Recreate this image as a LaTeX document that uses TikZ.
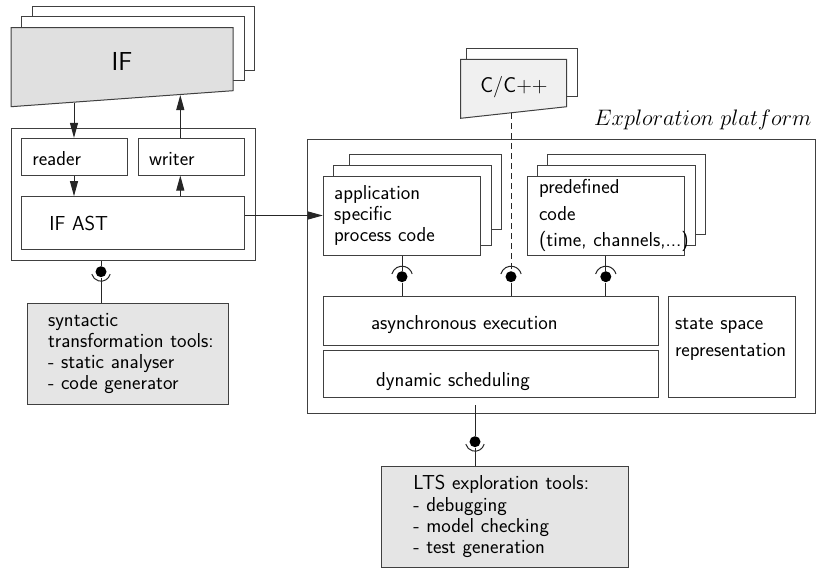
\documentclass[tikz,border=0pt]{standalone}
\usepackage{fix-cm}
\usetikzlibrary{arrows.meta}

\begin{document}
\begin{tikzpicture}[x=1pt, y=-1pt, line width=1pt, font=\sffamily\fontsize{20.2}{20.7}\selectfont]
    \tikzstyle{every node} = [inner sep=0pt]
    \tikzstyle{box} = [rectangle, draw=black!75, fill=white, inner xsep=1pt, align=left]
    \tikzstyle{tool} = [box, fill=black!10]
    \tikzstyle{sheet} = [draw=black!75, fill=white]
    \tikzstyle{link} = [draw=black!85]
    \tikzstyle{arr} = [link, -{Triangle[length=15pt, width=8pt]}]
    \tikzstyle{ball} = [circle, fill=black, minimum size=11pt]

    \useasboundingbox (0,0) rectangle (818,570);

    % IF document
    \draw[sheet] (32,6) rectangle (254.7,70);
    \draw[sheet] (21.3,16.7) rectangle (244.3,80.7);
    \draw[sheet, fill=black!12] (11,27.7) -- (233,27.7) -- (233,90.7) -- (11,106.7) -- cycle;
    \node[font=\sffamily\fontsize{26}{30}\selectfont] (ifdoc) at (122,61) {IF};
    \coordinate (ifout) at (74,102.5);
    \coordinate (ifin) at (180.3,95);

    % C/C++ document
    \draw[sheet] (466,48.3) rectangle (577.7,96.7);
    \draw[sheet, fill=black!6] (460.7,59.3) -- (566.7,59.3) -- (566.7,106.7) -- (460.7,118.3) -- cycle;
    \node[font=\sffamily\fontsize{21.5}{24}\selectfont] (cpp) at (514,87.5) {C/C++};
    \coordinate (cppout) at (511,113);

    % IF front end
    \node[box, minimum width=244pt, minimum height=131.7pt] (ifbox) at (133,194.2) {};
    \node[box, minimum width=106pt, minimum height=36.7pt, text width=104pt,
          text height=16.6pt, text depth=0pt] (reader) at (74.7,156.7) {\leftskip=9.6pt reader\par};
    \node[box, minimum width=106pt, minimum height=36.7pt, text width=104pt,
          text height=16.6pt, text depth=0pt] (writer) at (191.3,156.7) {\leftskip=9.7pt writer\par};
    \node[box, minimum width=222.6pt, minimum height=53.3pt, text width=220.6pt] (ast) at (133,223.3) {\leftskip=26.6pt IF AST\par};

    \node[tool, minimum width=201.7pt, minimum height=101pt, text width=199.7pt] (syn) at (127.85,353.5)
        {\leftskip=20pt syntactic\\transformation tools:\\- static analyser\\- code generator\par};

    % exploration platform
    \node[box, minimum width=508pt, minimum height=274.3pt] (plat) at (561,276.2) {};
    \node[anchor=base east, font=\fontsize{22.4}{26}\selectfont] (platname) at (812,125) {$Exploration\ platform$};

    \draw[sheet] (349.3,154.3) rectangle (501.3,229);
    \draw[sheet] (333.3,165.7) rectangle (491,245);
    \node[box, minimum width=157.4pt, minimum height=79pt, text width=155.4pt] (app) at (402,215.5)
        {\leftskip=9.9pt application\\specific\\process code\par};

    \draw[sheet] (547.7,154.3) rectangle (705,234.3);
    \draw[sheet] (537.7,165.7) rectangle (695,245);
    \node[box, minimum width=157pt, minimum height=79pt, text width=155pt,
          font=\sffamily\fontsize{20.2}{26.5}\selectfont] (pre) at (605.8,215.5)
        {\leftskip=10.7pt predefined\\code\\\mbox{(time, channels,...)}\par};

    \node[box, minimum width=335pt, minimum height=48.3pt, text width=333pt,
          text height=20.8pt, text depth=3.8pt] (async) at (490.8,320.85) {\leftskip=46.7pt asynchronous execution\par};
    \node[box, minimum width=335pt, minimum height=47pt, text width=333pt,
          text height=27.4pt, text depth=3.8pt] (dyn) at (490.8,374.2) {\leftskip=51.7pt dynamic scheduling\par};
    \node[box, minimum width=126.7pt, minimum height=101pt, text width=124.7pt, text depth=47pt,
          font=\sffamily\fontsize{20.2}{27}\selectfont] (state) at (731.65,347.2)
        {\leftskip=5.7pt state space\\representation\par};

    \node[tool, minimum width=246.6pt, minimum height=101pt, text width=244.6pt,
          font=\sffamily\fontsize{20.2}{21.1}\selectfont] (lts) at (505,516.5)
        {\leftskip=30.6pt LTS exploration tools:\\- debugging\\- model checking\\- test generation\par};

    % arrows
    \draw[arr] (ifout) -- (ifout |- reader.north);
    \draw[arr] (ifout |- reader.south) -- (ifout |- ast.north);
    \draw[arr] (ast.north -| ifin) -- (ifin |- writer.south);
    \draw[arr] (ifin |- writer.north) -- (ifin);
    \draw[arr] (ast.east |- app.west) -- (app.west);

    % ball and socket connectors
    \node[ball] (s1) at (101,271.7) {};
    \draw[link] (ifbox.south -| s1) -- (s1) -- (syn.north -| s1);
    \draw[link] (s1.center) ++(15:9.5) arc (15:165:9.5);

    \node[ball] (s2) at (402,276.7) {};
    \node[ball] (s3) at (511,276.7) {};
    \node[ball] (s4) at (605.8,276.7) {};
    \draw[link] (app.south -| s2) -- (s2) -- (async.north -| s2);
    \draw[link, dash pattern=on 6pt off 4pt] (cppout) -- (s3);
    \draw[link] (s3) -- (async.north -| s3);
    \draw[link] (pre.south -| s4) -- (s4) -- (async.north -| s4);
    \foreach \s in {s2, s3, s4}
        \draw[link] (\s.center) ++(195:10.5) arc (195:345:10.5);

    \coordinate (ltsin) at (475,405);
    \node[ball] (s5) at (475,441.7) {};
    \draw[link] (ltsin) -- (s5) -- (lts.north -| s5);
    \draw[link] (s5.center) ++(15:9.5) arc (15:165:9.5);
\end{tikzpicture}
\end{document}
